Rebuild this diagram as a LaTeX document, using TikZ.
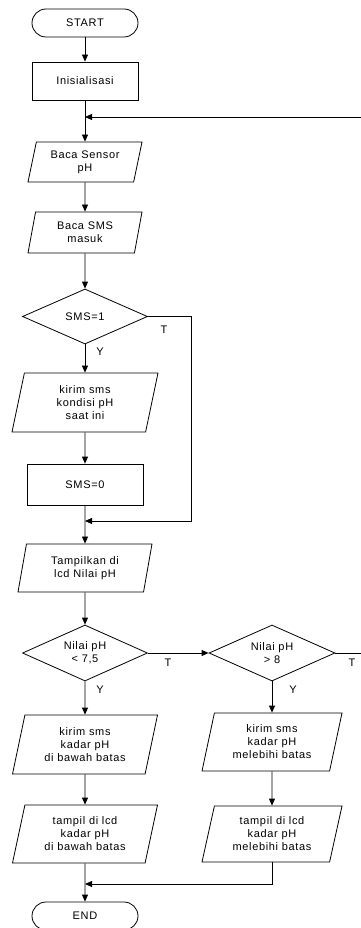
\documentclass[tikz,border=0pt]{standalone}
\usepackage{fontspec}
\setmainfont{Liberation Sans}[LetterSpace=6]
\usetikzlibrary{shapes.geometric,arrows.meta}
\tikzset{
  base/.style={draw, line width=0.8pt, align=center, font=\fontsize{11}{13}\selectfont, inner sep=0pt},
  term/.style={base, rectangle, rounded corners=14pt, minimum width=106pt, minimum height=28pt},
  proc/.style={base, rectangle},
  io/.style={base, trapezium, trapezium left angle=70, trapezium right angle=110, trapezium stretches body=true},
  dec/.style={base, diamond, aspect=2.2},
  arr/.style={line width=0.8pt, -{Triangle[length=7pt,width=6pt]}},
  ln/.style={line width=0.8pt},
  lbl/.style={font=\fontsize{11}{13}\selectfont, inner sep=0pt}
}
\begin{document}
\begin{tikzpicture}[x=1pt,y=-1pt]
\useasboundingbox (0,0) rectangle (361,928);
\node[term] (start) at (85,23) {START};
\node[proc, minimum width=106pt, minimum height=38pt] (init) at (85,81) {Inisialisasi};
\node[io, minimum width=114pt, minimum height=40pt] (sensor) at (85,162) {Baca Sensor\\pH};
\node[io, minimum width=114pt, minimum height=41pt] (sms) at (85,232.5) {Baca SMS\\masuk};
\node[dec, minimum width=125pt, minimum height=55pt] (d1) at (85,316.5) {SMS=1};
\node[io, minimum width=146pt, minimum height=59pt] (kirim1) at (85,402.5) {kirim sms\\kondisi pH\\saat ini};
\node[proc, minimum width=116pt, minimum height=41pt] (sms0) at (85,484.5) {SMS=0};
\node[io, minimum width=134pt, minimum height=48pt] (tamp) at (85,568) {Tampilkan di\\lcd Nilai pH};
\node[dec, minimum width=125pt, minimum height=56pt] (d2) at (85,653) {Nilai pH\\< 7,5};
\node[dec, minimum width=126pt, minimum height=56pt] (d3) at (272,653) {Nilai pH\\> 8};
\node[io, minimum width=145pt, minimum height=59pt] (kirim2) at (85,744.5) {kirim sms\\kadar pH\\di bawah batas};
\node[io, minimum width=145pt, minimum height=58pt] (tampil2) at (85,834) {tampil di lcd\\kadar pH\\di bawah batas};
\node[io, minimum width=140pt, minimum height=58pt] (kirim3) at (272,742) {kirim sms\\kadar pH\\melebihi batas};
\node[io, minimum width=140pt, minimum height=56pt] (tampil3) at (272,834) {tampil di lcd\\kadar pH\\melebihi batas};
\node[term] (end) at (85,916) {END};

\coordinate (m1) at (85,117);
\coordinate (e1) at (361,117);
\coordinate (c2) at (191,521);
\coordinate (m2) at (85,521);
\coordinate (e2) at (361,653);
\coordinate (m3) at (85,884);

\draw[arr] (start) -- (init);
\draw[arr] (init) -- (sensor);
\draw[arr] (e1) -- (m1);
\draw[arr] (sensor) -- (sms);
\draw[arr] (sms) -- (d1);
\draw[arr] (d1) -- (kirim1);
\draw[arr] (kirim1) -- (sms0);
\draw[arr] (sms0) -- (tamp);
\draw[arr] (d1.east) -| (c2) -- (m2);
\draw[arr] (tamp) -- (d2);
\draw[arr] (d2.east) -- (d3.west);
\draw[ln] (d3.east) -- (e2);
\draw[arr] (d2) -- (kirim2);
\draw[arr] (kirim2) -- (tampil2);
\draw[arr] (tampil2) -- (end);
\draw[arr] (d3) -- (kirim3);
\draw[arr] (kirim3) -- (tampil3);
\draw[arr] (tampil3.south) |- (m3);

\node[lbl] (t1) at (164,330) {T};
\node[lbl] (y1) at (100,352) {Y};
\node[lbl] (t2) at (168,663) {T};
\node[lbl] (y2) at (100,690) {Y};
\node[lbl] (t3) at (352,663) {T};
\node[lbl] (y3) at (293,690) {Y};
\end{tikzpicture}
\end{document}
